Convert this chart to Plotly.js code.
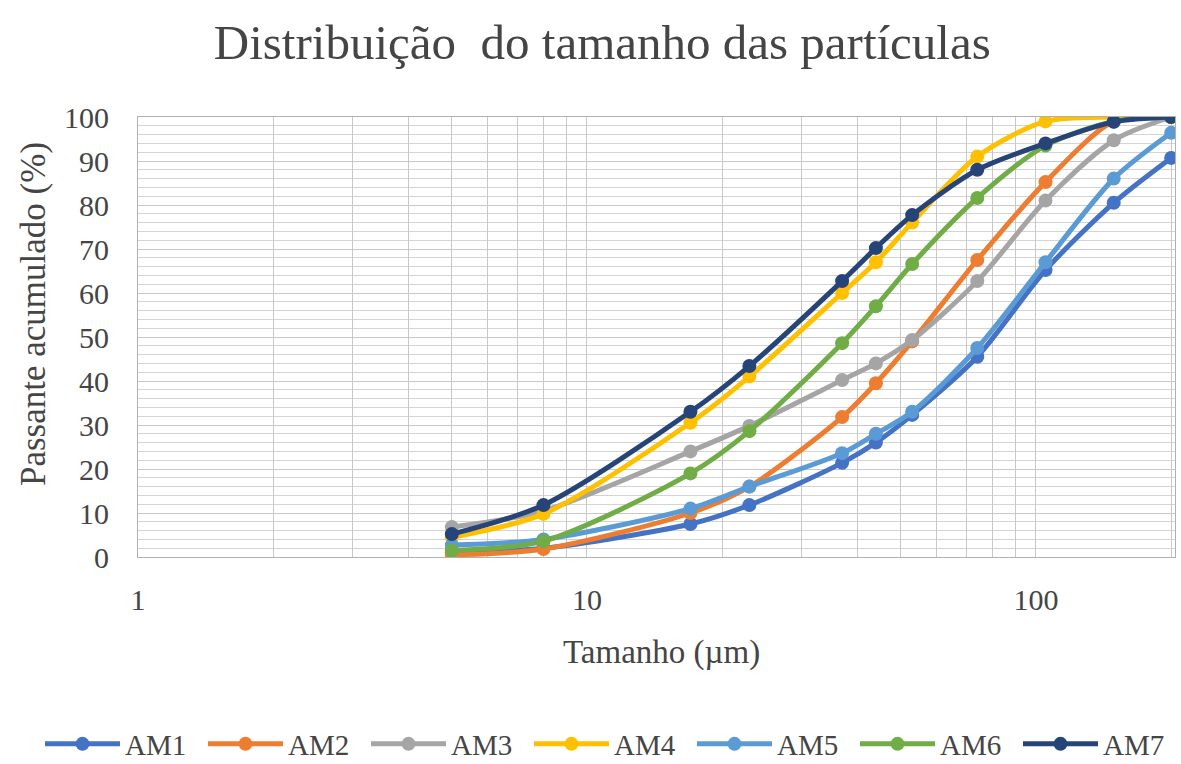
<!DOCTYPE html>
<html>
<head>
<meta charset="utf-8">
<script src="https://cdn.plot.ly/plotly-3.0.1.min.js"></script>
<style>html,body{margin:0;padding:0;background:#fff;}#chart{width:1181px;height:764px;}</style>
</head>
<body>
<div id="chart"></div>
<script>
var sizes = [5, 8, 17, 23, 37, 44, 53, 74, 105, 149, 200];
var AM1 = [1.0, 2.0, 7.5, 11.8, 21.4, 26.0, 32.3, 45.5, 65.2, 80.5, 90.7];
var AM2 = [0.5, 1.8, 10.0, 16.0, 31.8, 39.5, 49.0, 67.5, 85.2, 99.0, 100];
var AM3 = [6.8, 10.5, 24.0, 29.8, 40.2, 44.0, 49.3, 62.7, 81.0, 94.7, 100];
var AM4 = [4.5, 9.8, 30.5, 41.0, 60.0, 67.0, 76.0, 91.0, 99.0, 100, 100];
var AM5 = [2.7, 4.0, 11.0, 16.0, 23.6, 28.0, 33.0, 47.5, 67.0, 86.0, 96.4];
var AM6 = [1.5, 3.6, 19.0, 28.6, 48.6, 57.0, 66.6, 81.6, 93.5, 99.0, 100];
var AM7 = [5.2, 11.8, 33.0, 43.4, 62.7, 70.2, 77.7, 88.0, 94.0, 98.9, 100];
var names = ["AM1", "AM2", "AM3", "AM4", "AM5", "AM6", "AM7"];
var colors = ["#4472C4", "#ED7D31", "#A5A5A5", "#FFC000", "#5B9BD5", "#70AD47", "#264478"];
var series = [AM1, AM2, AM3, AM4, AM5, AM6, AM7];
var xTickVals = [1,2,3,4,5,6,7,8,9,10,20,30,40,50,60,70,80,90,100,200];
var xTickText = ["1","","","","","","","","","10","","","","","","","","","100",""];
var titleText = "Distribuição  do tamanho das partículas";
var xTitle = "Tamanho (µm)";
var yTitle = "Passante acumulado (%)";

var traces = series.map(function (s, i) {
  return {
    x: sizes, y: s, name: names[i], type: "scatter", mode: "lines+markers",
    line: {color: colors[i], width: 5, shape: "spline", smoothing: 0.8},
    marker: {color: colors[i], size: 14}
  };
});

var font = "Liberation Serif, Times New Roman, serif";
var txt = "#454545";
var layout = {
  width: 1181, height: 764,
  paper_bgcolor: "#fff", plot_bgcolor: "#fff",
  margin: {l: 138, r: 6, t: 117, b: 207, autoexpand: false},
  font: {family: font, color: txt, size: 30},
  title: {text: titleText, x: 0.51, xanchor: "center", y: 0.945, yanchor: "middle",
          font: {family: font, size: 49, color: txt}},
  xaxis: {type: "log", range: [0, Math.log10(204)], tickmode: "array", tickvals: xTickVals, ticktext: xTickText,
          showgrid: true, gridcolor: "#c8c8c8", gridwidth: 1, zeroline: false,
          showline: true, linecolor: "#b0b0b0", linewidth: 1, mirror: true, ticks: "",
          ticklabelstandoff: 16,
          tickfont: {family: font, size: 30, color: txt}},
  yaxis: {range: [0, 100], dtick: 10, showgrid: true, gridcolor: "#c8c8c8", gridwidth: 1, zeroline: false,
          showline: true, linecolor: "#b0b0b0", linewidth: 1, mirror: true, ticks: "",
          ticklabelstandoff: 22,
          minor: {dtick: 2, showgrid: true, gridcolor: "#d4d4d4", gridwidth: 1},
          tickfont: {family: font, size: 30, color: txt}},
  annotations: [
    {text: xTitle, xref: "paper", yref: "paper", x: (661 - 138) / 1037, y: (557 - 652) / 440,
     xanchor: "center", yanchor: "middle", showarrow: false, font: {family: font, size: 33, color: txt}},
    {text: yTitle, xref: "paper", yref: "paper", x: (33 - 138) / 1037, y: (557 - 314) / 440, textangle: -90,
     xanchor: "center", yanchor: "middle", showarrow: false, font: {family: font, size: 35, color: txt}}
  ],
  showlegend: true,
  legend: {orientation: "h", x: (40 - 138) / 1037, xanchor: "left", y: (557 - 744) / 440, yanchor: "middle",
           font: {family: font, size: 29, color: txt}, itemwidth: 75, entrywidth: 73, entrywidthmode: "pixels",
           tracegroupgap: 0, bgcolor: "rgba(0,0,0,0)"}
};

Plotly.newPlot("chart", traces, layout, {displayModeBar: false, staticPlot: true});
</script>
</body>
</html>
